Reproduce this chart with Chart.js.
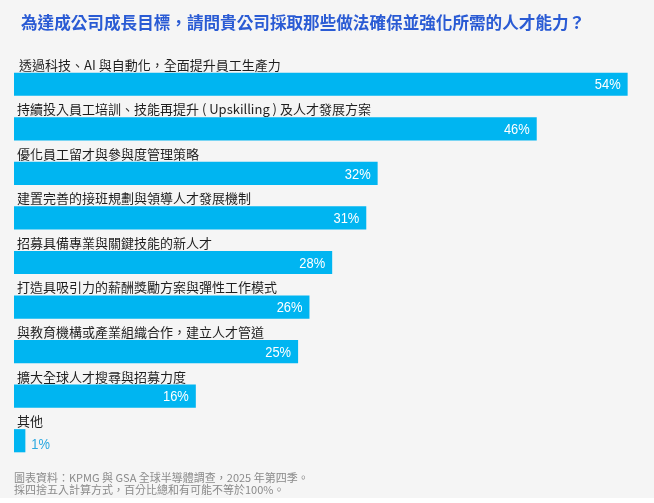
<!DOCTYPE html>
<html lang="zh-Hant">
<head>
<meta charset="UTF-8">
<title>人才能力</title>
<script src="https://cdn.jsdelivr.net/npm/chart.js"></script>
<style>
	html, body { margin: 0; padding: 0; background: #ffffff; }
	.box { width: 654px; height: 498px; background: #f5f5f5; position: relative; }
</style>
</head>
<body>
<div class="box">
	<canvas id="grafico" width="654" height="498"></canvas>
</div>
<script>
	var titulo = '為達成公司成長目標，請問貴公司採取那些做法確保並強化所需的人才能力？';
	var categorias = [
		'透過科技、AI 與自動化，全面提升員工生產力',
		'持續投入員工培訓、技能再提升 ( Upskilling ) 及人才發展方案',
		'優化員工留才與參與度管理策略',
		'建置完善的接班規劃與領導人才發展機制',
		'招募具備專業與關鍵技能的新人才',
		'打造具吸引力的薪酬獎勵方案與彈性工作模式',
		'與教育機構或產業組織合作，建立人才管道',
		'擴大全球人才搜尋與招募力度',
		'其他'
	];
	var valores = [54, 46, 32, 31, 28, 26, 25, 16, 1];
	var notas = [
		'圖表資料：KPMG 與 GSA 全球半導體調查，2025 年第四季。',
		'採四捨五入計算方式，百分比總和有可能不等於100%。'
	];

	var cjk = '"Noto Sans CJK TC", "Noto Sans", sans-serif';
	var numeros = '"Liberation Sans", "Roboto", sans-serif';

	// texto estreito: escala horizontal
	function textoEstreito(ctx, txt, x, y, fator) {
		ctx.save();
		ctx.translate(x, y);
		ctx.scale(fator, 1);
		ctx.fillText(txt, 0, 0);
		ctx.restore();
	}

	// desenha titulo, rotulos das barras, valores e rodape
	var rotulos = {
		id: 'rotulos',
		afterDatasetsDraw: function (chart) {
			var ctx = chart.ctx;
			ctx.save();

			ctx.fillStyle = '#2a5bd4';
			ctx.font = 'bold 16.6px ' + cjk;
			ctx.textAlign = 'left';
			ctx.textBaseline = 'middle';
			ctx.fillText(titulo, 21, 23);

			var barras = chart.getDatasetMeta(0).data;
			for (var i = 0; i < barras.length; i++) {
				var b = barras[i];
				var topo = b.y - b.height / 2;

				ctx.fillStyle = '#1e1e1e';
				ctx.font = '13px ' + cjk;
				ctx.textAlign = 'left';
				ctx.textBaseline = 'alphabetic';
				ctx.fillText(categorias[i], i === 0 ? 19 : 17, topo - 3);

				ctx.font = '15px ' + numeros;
				ctx.textBaseline = 'middle';
				var texto = valores[i] + '%';
				if (b.x - b.base > 40) {
					ctx.fillStyle = '#ffffff';
					ctx.textAlign = 'right';
					textoEstreito(ctx, texto, b.x - 7, b.y + 1, 0.86);
				} else {
					ctx.fillStyle = '#2aa8e0';
					ctx.textAlign = 'left';
					textoEstreito(ctx, texto, b.x + 6, b.y + 4, 0.86);
				}
			}

			ctx.fillStyle = '#8a8a8a';
			ctx.font = '11px ' + cjk;
			ctx.textAlign = 'left';
			ctx.textBaseline = 'middle';
			ctx.fillText(notas[0], 14, 478);
			ctx.fillText(notas[1], 14, 490);
			ctx.restore();
		}
	};

	var ctx = document.getElementById('grafico').getContext('2d');
	var grafico = new Chart(ctx, {
		type: 'bar',
		data: {
			labels: categorias,
			datasets: [{
				data: valores,
				backgroundColor: '#00b5f1',
				borderWidth: 0,
				barPercentage: 0.52,
				categoryPercentage: 1
			}]
		},
		options: {
			indexAxis: 'y',
			responsive: false,
			animation: false,
			layout: {
				padding: { left: 14, right: 15, top: 62, bottom: 35 }
			},
			scales: {
				x: { display: false, min: 0, max: 55 },
				y: { display: false }
			},
			plugins: {
				legend: { display: false },
				tooltip: { enabled: false }
			}
		},
		plugins: [rotulos]
	});
</script>
</body>
</html>
